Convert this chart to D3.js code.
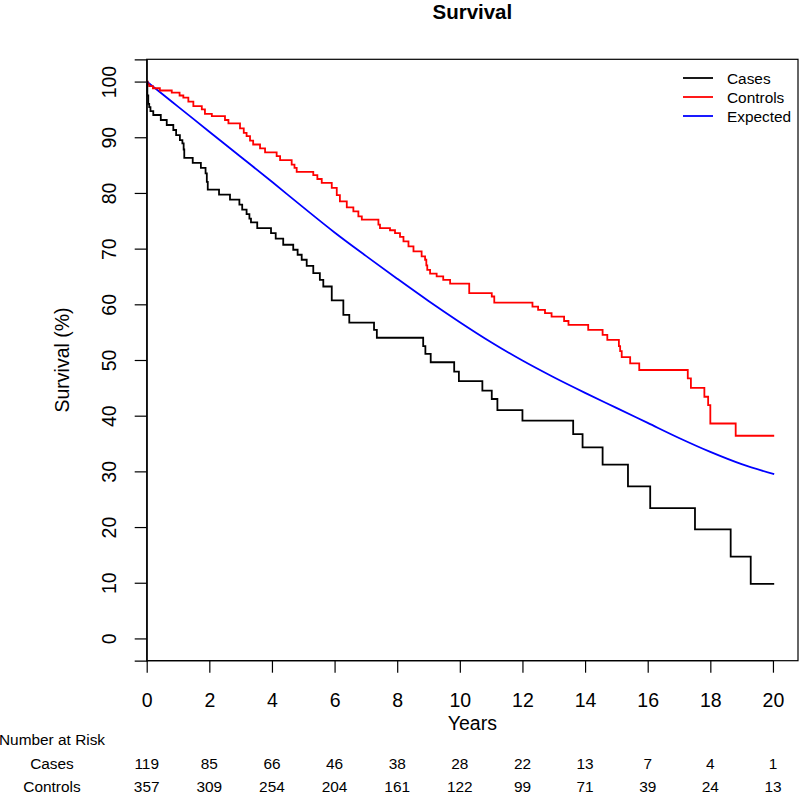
<!DOCTYPE html>
<html>
<head>
<meta charset="utf-8">
<script src="https://cdn.jsdelivr.net/npm/d3@7"></script>
<style>
  body { margin: 0; background: #fff; }
  svg { display: block; }
  text { font-family: "Liberation Sans", Arial, Helvetica, sans-serif; fill: #000; }
</style>
</head>
<body>
<svg id="chart" width="800" height="794"></svg>
<script>
// ---------- data ----------
const casesTimes = [0,0.02,0.05,0.08,0.12,0.21,0.45,0.64,0.85,0.94,1.06,1.14,1.18,1.2,1.47,1.73,1.88,1.92,1.95,2.31,2.66,2.96,3.05,3.19,3.28,3.33,3.53,3.97,4.12,4.36,4.68,4.82,4.95,5.11,5.32,5.53,5.64,5.91,6.28,6.47,7.26,7.35,8.83,8.9,9.07,9.82,9.97,10.72,11.02,11.2,12.0,13.62,13.92,14.56,15.37,16.08,17.51,18.65,19.29,20.04];
const casesSurv  = [100,97.5,96.0,95.4,94.7,94.0,93.1,92.2,91.3,90.4,89.5,88.9,87.8,86.3,85.4,84.5,83.5,82.0,80.6,79.7,78.8,77.9,77.0,76.2,75.4,74.7,73.7,72.8,71.8,70.7,69.8,68.9,68.0,66.9,65.6,64.4,63.2,60.7,58.1,56.7,55.4,54.0,52.5,51.1,49.6,47.9,46.2,44.5,43.0,41.0,39.1,36.7,34.3,31.2,27.3,23.4,19.6,14.7,9.8,9.8];

const controlsTimes = [0,0.03,0.08,0.2,0.42,0.8,1.05,1.17,1.33,1.49,1.76,1.86,2.08,2.5,2.61,2.98,3.1,3.19,3.3,3.4,3.62,3.78,4.15,4.26,4.63,4.72,4.79,5.32,5.45,5.59,5.91,6.07,6.17,6.39,6.6,6.76,6.87,7.4,7.45,7.77,7.93,8.09,8.2,8.36,8.52,8.78,8.89,8.93,8.96,9.05,9.26,9.47,9.69,10.3,11.02,11.1,12.32,12.5,12.72,12.93,13.33,13.47,14.1,14.56,14.71,15.08,15.12,15.17,15.44,15.73,17.28,17.38,17.81,17.93,18.0,18.81,20.04];
const controlsSurv  = [100,99.5,99.2,98.8,98.4,98.0,97.5,97.1,96.4,95.6,95.0,94.2,93.8,93.1,92.5,91.6,90.8,90.2,89.4,88.7,88.0,87.3,86.6,85.9,85.1,84.5,83.8,83.2,82.5,81.8,80.9,79.6,78.5,77.4,76.7,75.8,75.2,74.3,73.7,73.3,72.8,72.1,71.3,70.4,69.5,68.6,68.0,67.0,66.2,65.5,65.0,64.4,63.7,62.0,61.4,60.3,59.6,59.0,58.4,57.8,57.0,56.3,55.4,54.5,53.6,52.5,51.6,50.5,49.4,48.2,46.7,45.0,43.4,41.9,38.6,36.4,36.4];

const expectedTimes = [0,1,2,3,4,5,6,7,8,9,10,11,12,13,14,15,16,17,18,19,20.04];
const expectedSurv  = [100,95.5,91.0,86.5,82.0,77.4,72.9,68.7,64.6,60.6,56.8,53.2,49.9,46.9,44.1,41.4,38.7,36.0,33.5,31.3,29.5];

const seriesNames  = ["Cases","Controls","Expected"];
const seriesColors = ["#000000","#ff0000","#0000ff"];

const xTicks = [0,2,4,6,8,10,12,14,16,18,20];
const yTicks = [0,10,20,30,40,50,60,70,80,90,100];

const riskCases    = [119,85,66,46,38,28,22,13,7,4,1];
const riskControls = [357,309,254,204,161,122,99,71,39,24,13];

// ---------- layout ----------
const svg = d3.select("#chart");
const L = 146.7, R = 798, T = 59.3, B = 660.7;
const x = d3.scaleLinear().domain([0, 20.8]).range([L, R]);
const y = d3.scaleLinear().domain([-4, 104]).range([B, T]);

const axisFont = "19.5px";
const smallFont = "15.4px";

// title
svg.append("text").attr("x", (L + R) / 2).attr("y", 19)
  .attr("text-anchor", "middle").style("font-size", "20.5px").style("font-weight", "bold")
  .text("Survival");

// box
svg.append("rect").attr("x", L).attr("y", T).attr("width", R - L).attr("height", B - T)
  .attr("fill", "none").attr("stroke", "#000").attr("stroke-width", 1.2);

// y axis
const yAx = svg.append("g").attr("transform", `translate(${L},0)`)
  .call(d3.axisLeft(y).tickValues(yTicks).tickSize(12).tickPadding(0).tickFormat(d3.format("d")));
yAx.select(".domain").attr("stroke-width", 1.2);
yAx.selectAll(".tick line").attr("stroke-width", 1.2);
yAx.selectAll(".tick text")
  .attr("x", null).attr("dy", null)
  .attr("text-anchor", "middle")
  .attr("transform", "translate(-37.5,0) rotate(-90)")
  .attr("dy", "0.36em")
  .style("font-size", axisFont).style("font-family", "Liberation Sans, Arial, sans-serif");

// x axis
const xAx = svg.append("g").attr("transform", `translate(0,${B})`)
  .call(d3.axisBottom(x).tickValues(xTicks).tickSize(12).tickPadding(0).tickFormat(d3.format("d")));
xAx.select(".domain").remove();
xAx.append("line").attr("x1", x(0)).attr("x2", x(20)).attr("stroke", "#000").attr("stroke-width", 1.2);
xAx.selectAll(".tick line").attr("stroke-width", 1.2);
xAx.selectAll(".tick text")
  .attr("y", 46).attr("dy", null)
  .style("font-size", axisFont).style("font-family", "Liberation Sans, Arial, sans-serif");

// axis titles
svg.append("text").attr("x", (L + R) / 2).attr("y", 730)
  .attr("text-anchor", "middle").style("font-size", axisFont).text("Years");
svg.append("text")
  .attr("transform", `translate(69,${(T + B) / 2}) rotate(-90)`)
  .attr("text-anchor", "middle").style("font-size", axisFont).text("Survival (%)");

// curves
svg.append("clipPath").attr("id", "clip").append("rect")
  .attr("x", L).attr("y", T).attr("width", R - L).attr("height", B - T);

const stepLine = d3.line().x(d => x(d[0])).y(d => y(d[1])).curve(d3.curveStepAfter);
const smoothLine = d3.line().x(d => x(d[0])).y(d => y(d[1])).curve(d3.curveMonotoneX);

const casesData = casesTimes.map((t, i) => [t, casesSurv[i]]);
const controlsData = controlsTimes.map((t, i) => [t, controlsSurv[i]]);
const expectedData = expectedTimes.map((t, i) => [t, expectedSurv[i]]);

const g = svg.append("g").attr("clip-path", "url(#clip)");
g.append("path").datum(expectedData).attr("d", smoothLine)
  .attr("fill", "none").attr("stroke", seriesColors[2]).attr("stroke-width", 1.8);
g.append("path").datum(controlsData).attr("d", stepLine)
  .attr("fill", "none").attr("stroke", seriesColors[1]).attr("stroke-width", 1.8);
g.append("path").datum(casesData).attr("d", stepLine)
  .attr("fill", "none").attr("stroke", seriesColors[0]).attr("stroke-width", 1.8);

// legend
const lg = svg.append("g");
seriesNames.forEach((name, i) => {
  const yy = 78 + i * 19;
  lg.append("line").attr("x1", 683).attr("x2", 713).attr("y1", yy).attr("y2", yy)
    .attr("stroke", seriesColors[i]).attr("stroke-width", 1.8);
  lg.append("text").attr("x", 727).attr("y", yy).attr("dy", "0.36em")
    .style("font-size", smallFont).text(name);
});

// number at risk table
svg.append("text").attr("x", -1).attr("y", 745).style("font-size", smallFont).text("Number at Risk");
const rows = [["Cases", riskCases, 769], ["Controls", riskControls, 792]];
rows.forEach(([label, vals, yy]) => {
  svg.append("text").attr("x", 52).attr("y", yy).attr("text-anchor", "middle")
    .style("font-size", smallFont).text(label);
  svg.append("g").selectAll("text").data(vals).join("text")
    .attr("x", (d, i) => x(xTicks[i])).attr("y", yy).attr("text-anchor", "middle")
    .style("font-size", smallFont).text(d => d);
});
</script>
</body>
</html>
